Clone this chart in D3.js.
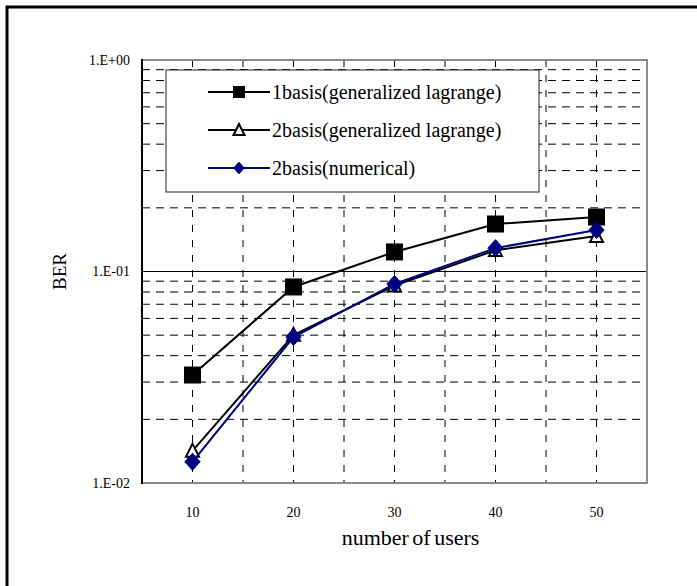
<!DOCTYPE html>
<html>
<head>
<meta charset="utf-8">
<script src="https://cdn.jsdelivr.net/npm/d3@7"></script>
<style>
  body { margin: 0; background: #fff; }
  text { font-family: "Liberation Serif", "Times New Roman", serif; fill: #000; }
</style>
</head>
<body>
<div id="chart"></div>
<script>
// chart data
var users = [10, 20, 30, 40, 50];
var basis1Lagrange = [0.0324, 0.0845, 0.1237, 0.1677, 0.181];
var basis2Lagrange = [0.0142, 0.0501, 0.0857, 0.126, 0.147];
var basis2Numerical = [0.0126, 0.049, 0.0873, 0.129, 0.157];
var seriesNames = ["1basis(generalized lagrange)", "2basis(generalized lagrange)", "2basis(numerical)"];
var yTickValues = [0.01, 0.1, 1];
var yTickLabels = ["1.E-02", "1.E-01", "1.E+00"];

var W = 697, H = 586;
var margin = {top: 60, right: 50, bottom: 103, left: 142},
    width = W - margin.left - margin.right,
    height = H - margin.top - margin.bottom;

var svg = d3.select("#chart").append("svg")
    .attr("width", W)
    .attr("height", H);

// outer frame
svg.append("rect")
    .attr("x", 7).attr("y", 7)
    .attr("width", W + 20).attr("height", H + 20)
    .attr("fill", "none")
    .attr("stroke", "#000")
    .attr("stroke-width", 3);

var g = svg.append("g")
    .attr("transform", "translate(" + margin.left + "," + margin.top + ")");

var x = d3.scaleBand().domain(users).range([0, width]).padding(0);
var cx = function(d) { return x(d) + x.bandwidth() / 2; };
var y = d3.scaleLog().domain([0.01, 1]).range([height, 0]);

// horizontal grid: dashed minor lines, solid at decade
var minor = [];
[0.01, 0.1].forEach(function(dec) {
    for (var k = 2; k <= 9; k++) minor.push(dec * k);
});
g.selectAll(".hgrid").data(minor).enter().append("line")
    .attr("x1", 0).attr("x2", width)
    .attr("y1", d => y(d)).attr("y2", d => y(d))
    .attr("stroke", "#000").attr("stroke-width", 1)
    .attr("stroke-dasharray", "8,6");
g.append("line")
    .attr("x1", 0).attr("x2", width)
    .attr("y1", y(0.1)).attr("y2", y(0.1))
    .attr("stroke", "#000").attr("stroke-width", 1);

// vertical grid at category centres and boundaries
var vLines = users.map(cx).concat(users.slice(1).map(d => x(d)));
g.selectAll(".vgrid").data(vLines).enter().append("line")
    .attr("x1", d => d).attr("x2", d => d)
    .attr("y1", 0).attr("y2", height)
    .attr("stroke", "#000").attr("stroke-width", 1)
    .attr("stroke-dasharray", "7,8");

// plot border
g.append("rect")
    .attr("width", width).attr("height", height)
    .attr("fill", "none")
    .attr("stroke", "#8a8a8a").attr("stroke-width", 2);
g.append("line")
    .attr("x1", 0).attr("x2", 0).attr("y1", -1).attr("y2", height + 1)
    .attr("stroke", "#000").attr("stroke-width", 2);

// y tick labels
g.selectAll(".ylab").data(yTickValues).enter().append("text")
    .attr("x", -12).attr("y", d => y(d))
    .attr("dy", "0.35em")
    .attr("text-anchor", "end")
    .style("font-size", "14px")
    .text((d, i) => yTickLabels[i]);

// x tick labels
g.selectAll(".xlab").data(users).enter().append("text")
    .attr("x", cx).attr("y", height + 29)
    .attr("dy", "0.35em")
    .attr("text-anchor", "middle")
    .style("font-size", "14px")
    .text(d => d);

// axis titles
g.append("text")
    .attr("x", width / 2 + 16).attr("y", height + 62)
    .attr("text-anchor", "middle")
    .style("font-size", "22px")
    .style("word-spacing", "-2px")
    .text("number of users");
g.append("text")
    .attr("transform", "translate(" + (-76) + "," + y(0.1) + ") rotate(-90)")
    .attr("text-anchor", "middle")
    .style("font-size", "19px")
    .text("BER");

// markers
function drawMarker(sel, type, s) {
    if (type === "square") {
        sel.append("rect").attr("x", -s / 2).attr("y", -s / 2)
            .attr("width", s).attr("height", s)
            .attr("fill", "#000").attr("stroke", "#000");
    } else if (type === "triangle") {
        sel.append("path")
            .attr("d", "M0," + (-s * 0.55) + "L" + (s * 0.5) + "," + (s * 0.45) + "L" + (-s * 0.5) + "," + (s * 0.45) + "Z")
            .attr("fill", "#fff").attr("stroke", "#000").attr("stroke-width", 2);
    } else {
        sel.append("path")
            .attr("d", "M0," + (-s * 0.53) + "L" + (s * 0.48) + ",0L0," + (s * 0.53) + "L" + (-s * 0.48) + ",0Z")
            .attr("fill", "#000080").attr("stroke", "#000080");
    }
}

var series = [
    {name: seriesNames[0], values: basis1Lagrange, color: "#000", marker: "square", size: 16},
    {name: seriesNames[1], values: basis2Lagrange, color: "#000", marker: "triangle", size: 13},
    {name: seriesNames[2], values: basis2Numerical, color: "#000080", marker: "diamond", size: 16}
];

var line = d3.line()
    .x((d, i) => cx(users[i]))
    .y(d => y(d));

series.forEach(function(s) {
    g.append("path")
        .datum(s.values)
        .attr("fill", "none")
        .attr("stroke", s.color)
        .attr("stroke-width", 2)
        .attr("d", line);
    s.values.forEach(function(v, i) {
        var m = g.append("g").attr("transform", "translate(" + cx(users[i]) + "," + y(v) + ")");
        drawMarker(m, s.marker, s.size);
    });
});

// legend
var legend = g.append("g").attr("transform", "translate(24,10)");
legend.append("rect")
    .attr("width", 373).attr("height", 122)
    .attr("fill", "#fff")
    .attr("stroke", "#222").attr("stroke-width", 1);
series.forEach(function(s, i) {
    var row = legend.append("g").attr("transform", "translate(0," + (22 + i * 38) + ")");
    row.append("line")
        .attr("x1", 42).attr("x2", 104)
        .attr("stroke", s.color).attr("stroke-width", 2);
    var m = row.append("g").attr("transform", "translate(73,0)");
    drawMarker(m, s.marker, 11);
    row.append("text")
        .attr("x", 106).attr("dy", "0.35em")
        .style("font-size", "20px")
        .text(s.name);
});
</script>
</body>
</html>
